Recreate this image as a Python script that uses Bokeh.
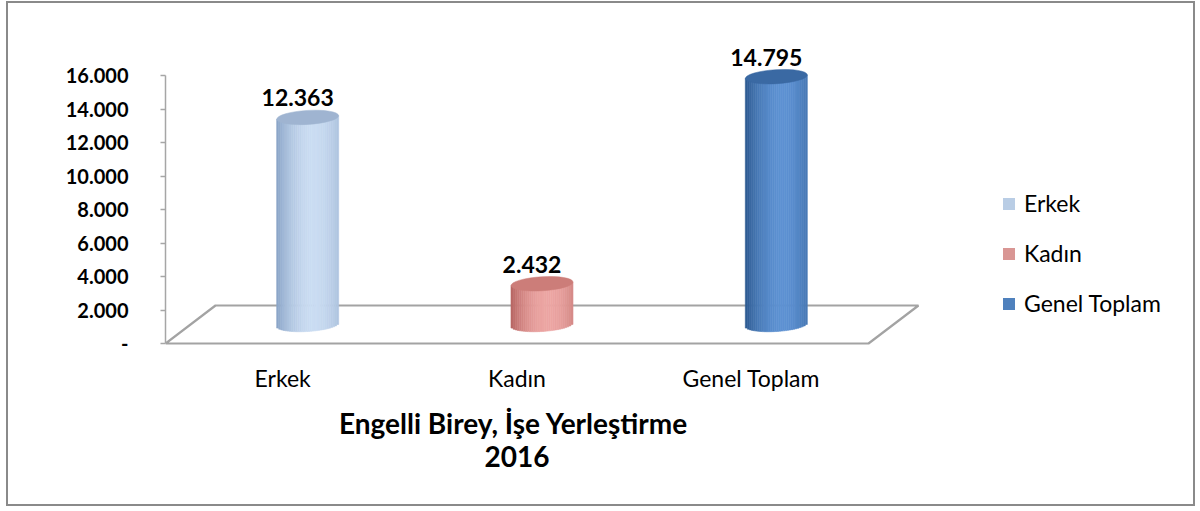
import math
from bokeh.plotting import figure
from bokeh.models import (Range1d, FixedTicker, Label, LabelSet, ColumnDataSource,
                          Legend, LegendItem)
from bokeh.core.properties import value
from bokeh.embed import file_html
from bokeh.resources import INLINE

# ---- data ----
categories = ["Erkek", "Kadın", "Genel Toplam"]
values = [12363, 2432, 14795]
y_ticks = [0, 2000, 4000, 6000, 8000, 10000, 12000, 14000, 16000]
title_line1 = "Engelli Birey,  İşe Yerleştirme"
title_line2 = "2016"

# ---- styles ----
legend_colors = ["#b9cde5", "#d99694", "#4f81bd"]
edge_colors = ["#86a1c4", "#b5625f", "#2a578d"]
high_colors = ["#cadcf2", "#eca6a4", "#5d91d2"]
top_colors = ["#9fb4d1", "#cc7d79", "#3a69a3"]
FONT = "Lato"

# geometry (pixels -> data)
PX_X = 234.33          # pixels per category unit
PX_Y = 16.75 / 1000.0  # pixels per value unit
depth_dx_px, depth_dy_px = 50, 38
cyl_w_px, ell_h_px = 62, 14
tilt = 0.06

ddx = depth_dx_px / PX_X
ddy = depth_dy_px / PX_Y
cyl_w = cyl_w_px / PX_X

W, H = 1189, 505
ML, MR, MT, MB = 157, 5, 37, 5
frame_w = W - ML - MR
frame_h = H - MT - MB
zero_from_top = 303  # pixels from frame top to value 0

p = figure(width=W, height=H, output_backend="svg", toolbar_location=None,
           x_range=Range1d(0, frame_w / PX_X),
           y_range=Range1d(-(frame_h - zero_from_top) / PX_Y, zero_from_top / PX_Y),
           min_border_left=ML, min_border_right=MR, min_border_top=MT,
           min_border_bottom=MB, outline_line_color=None,
           background_fill_color="white", border_fill_color="white",
           styles={"border": "2px solid #8a8a8a", "margin-left": "6px",
                   "margin-top": "1px"})
p.grid.visible = False

# floor
n = len(categories)
p.patch([0, n, n + ddx, ddx], [0, 0, ddy, ddy], fill_color=None,
        line_color="#a3a3a3", line_width=2.2)

def hex2rgb(h):
    h = h.lstrip("#")
    return [int(h[i:i + 2], 16) for i in (0, 2, 4)]

def mix(c1, c2, t):
    a, b = hex2rgb(c1), hex2rgb(c2)
    return "#%02x%02x%02x" % tuple(int(round(a[i] + (b[i] - a[i]) * t)) for i in range(3))

# cylinders as gradient strips
N = 30
L, R, B, T, C = [], [], [], [], []
base = (depth_dy_px / 2) / PX_Y
tx, ty, tc = [], [], []
for i, v in enumerate(values):
    cx = i + 0.5 + ddx / 2
    for k in range(N):
        u = (k + 0.5) / N
        s = 2 * u - 1
        prof = max(0.0, math.cos((u - 0.6) / 0.6 * math.pi / 2)) ** 0.8
        L.append(cx - cyl_w / 2 + k * cyl_w / N)
        R.append(cx - cyl_w / 2 + (k + 1) * cyl_w / N)
        tilt_px = s * (cyl_w_px / 2) * math.sin(tilt)
        B.append(base + (-(ell_h_px / 2) * math.sqrt(max(0, 1 - s * s)) + tilt_px) / PX_Y)
        T.append(base + v + tilt_px / PX_Y)
        C.append(mix(edge_colors[i], high_colors[i], prof))
    tx.append(cx)
    ty.append(base + v)
    tc.append(top_colors[i])

p.quad(left="l", right="r", bottom="b", top="t", fill_color="c", line_color="c",
       line_width=0.6, source=ColumnDataSource(dict(l=L, r=R, b=B, t=T, c=C)))
p.ellipse(x="x", y="y", width=cyl_w_px, height=ell_h_px, width_units="screen",
          height_units="screen", angle=tilt, fill_color="c", line_color="c",
          line_width=0.5, source=ColumnDataSource(dict(x=tx, y=ty, c=tc)))

# data labels
fmt = lambda v: f"{v:,}".replace(",", ".")
lab_src = ColumnDataSource(dict(x=[i + 0.5 + 15 / PX_X for i in range(n)],
                                y=[base + v for v in values],
                                t=[fmt(v) for v in values]))
p.add_layout(LabelSet(x="x", y="y", text="t", source=lab_src, y_offset=11,
                      text_align="center", text_baseline="alphabetic",
                      text_font=value(FONT), text_font_size=value("23px"),
                      text_font_style=value("bold"), text_color=value("#000000")))

# legend (dummy square renderers)
items = []
for i, c in enumerate(categories):
    r = p.quad(left=[float("nan")], right=[float("nan")], bottom=[float("nan")],
               top=[float("nan")], fill_color=legend_colors[i], line_color=None)
    items.append(LegendItem(label=c, renderers=[r]))
leg = Legend(items=items, location=(836, 186), glyph_width=15, glyph_height=15,
             label_height=24, spacing=22, padding=0, margin=0, label_standoff=8,
             border_line_color=None, background_fill_alpha=0,
             label_text_font=FONT, label_text_font_size="23px",
             label_text_color="#000000")
p.add_layout(leg)

# y axis
ya = p.yaxis[0]
ya.ticker = FixedTicker(ticks=y_ticks)
ya.bounds = (0, y_ticks[-1])
ya.major_label_overrides = {t: (fmt(t) if t else "-") for t in y_ticks}
ya.axis_line_color = "#a6a6a6"
ya.axis_line_width = 1.5
ya.major_tick_line_color = "#a6a6a6"
ya.major_tick_line_width = 1.5
ya.major_tick_in = 0
ya.major_tick_out = 5
ya.minor_tick_line_color = None
ya.major_label_standoff = 32
ya.major_label_text_font = FONT
ya.major_label_text_font_size = "20px"
ya.major_label_text_font_style = "bold"
ya.major_label_text_color = "#000000"

# x axis, drawn at value 0
xa = p.xaxis[0]
xa.fixed_location = 0
xa.ticker = FixedTicker(ticks=[i + 0.5 for i in range(n)])
xa.major_label_overrides = {i + 0.5: c for i, c in enumerate(categories)}
xa.axis_line_color = None
xa.major_tick_line_color = None
xa.minor_tick_line_color = None
xa.major_label_standoff = 14
xa.major_label_text_font = FONT
xa.major_label_text_font_size = "23px"
xa.major_label_text_color = "#000000"

# title below the chart
for txt, off in [(title_line1, -79), (title_line2, -113)]:
    p.add_layout(Label(x=n / 2, y=0, text=txt, y_offset=off, text_align="center",
                       text_baseline="alphabetic", text_font=FONT,
                       text_font_size="28px", text_font_style="bold",
                       text_color="#000000"))

open("out.html", "w").write(file_html(p, INLINE))
